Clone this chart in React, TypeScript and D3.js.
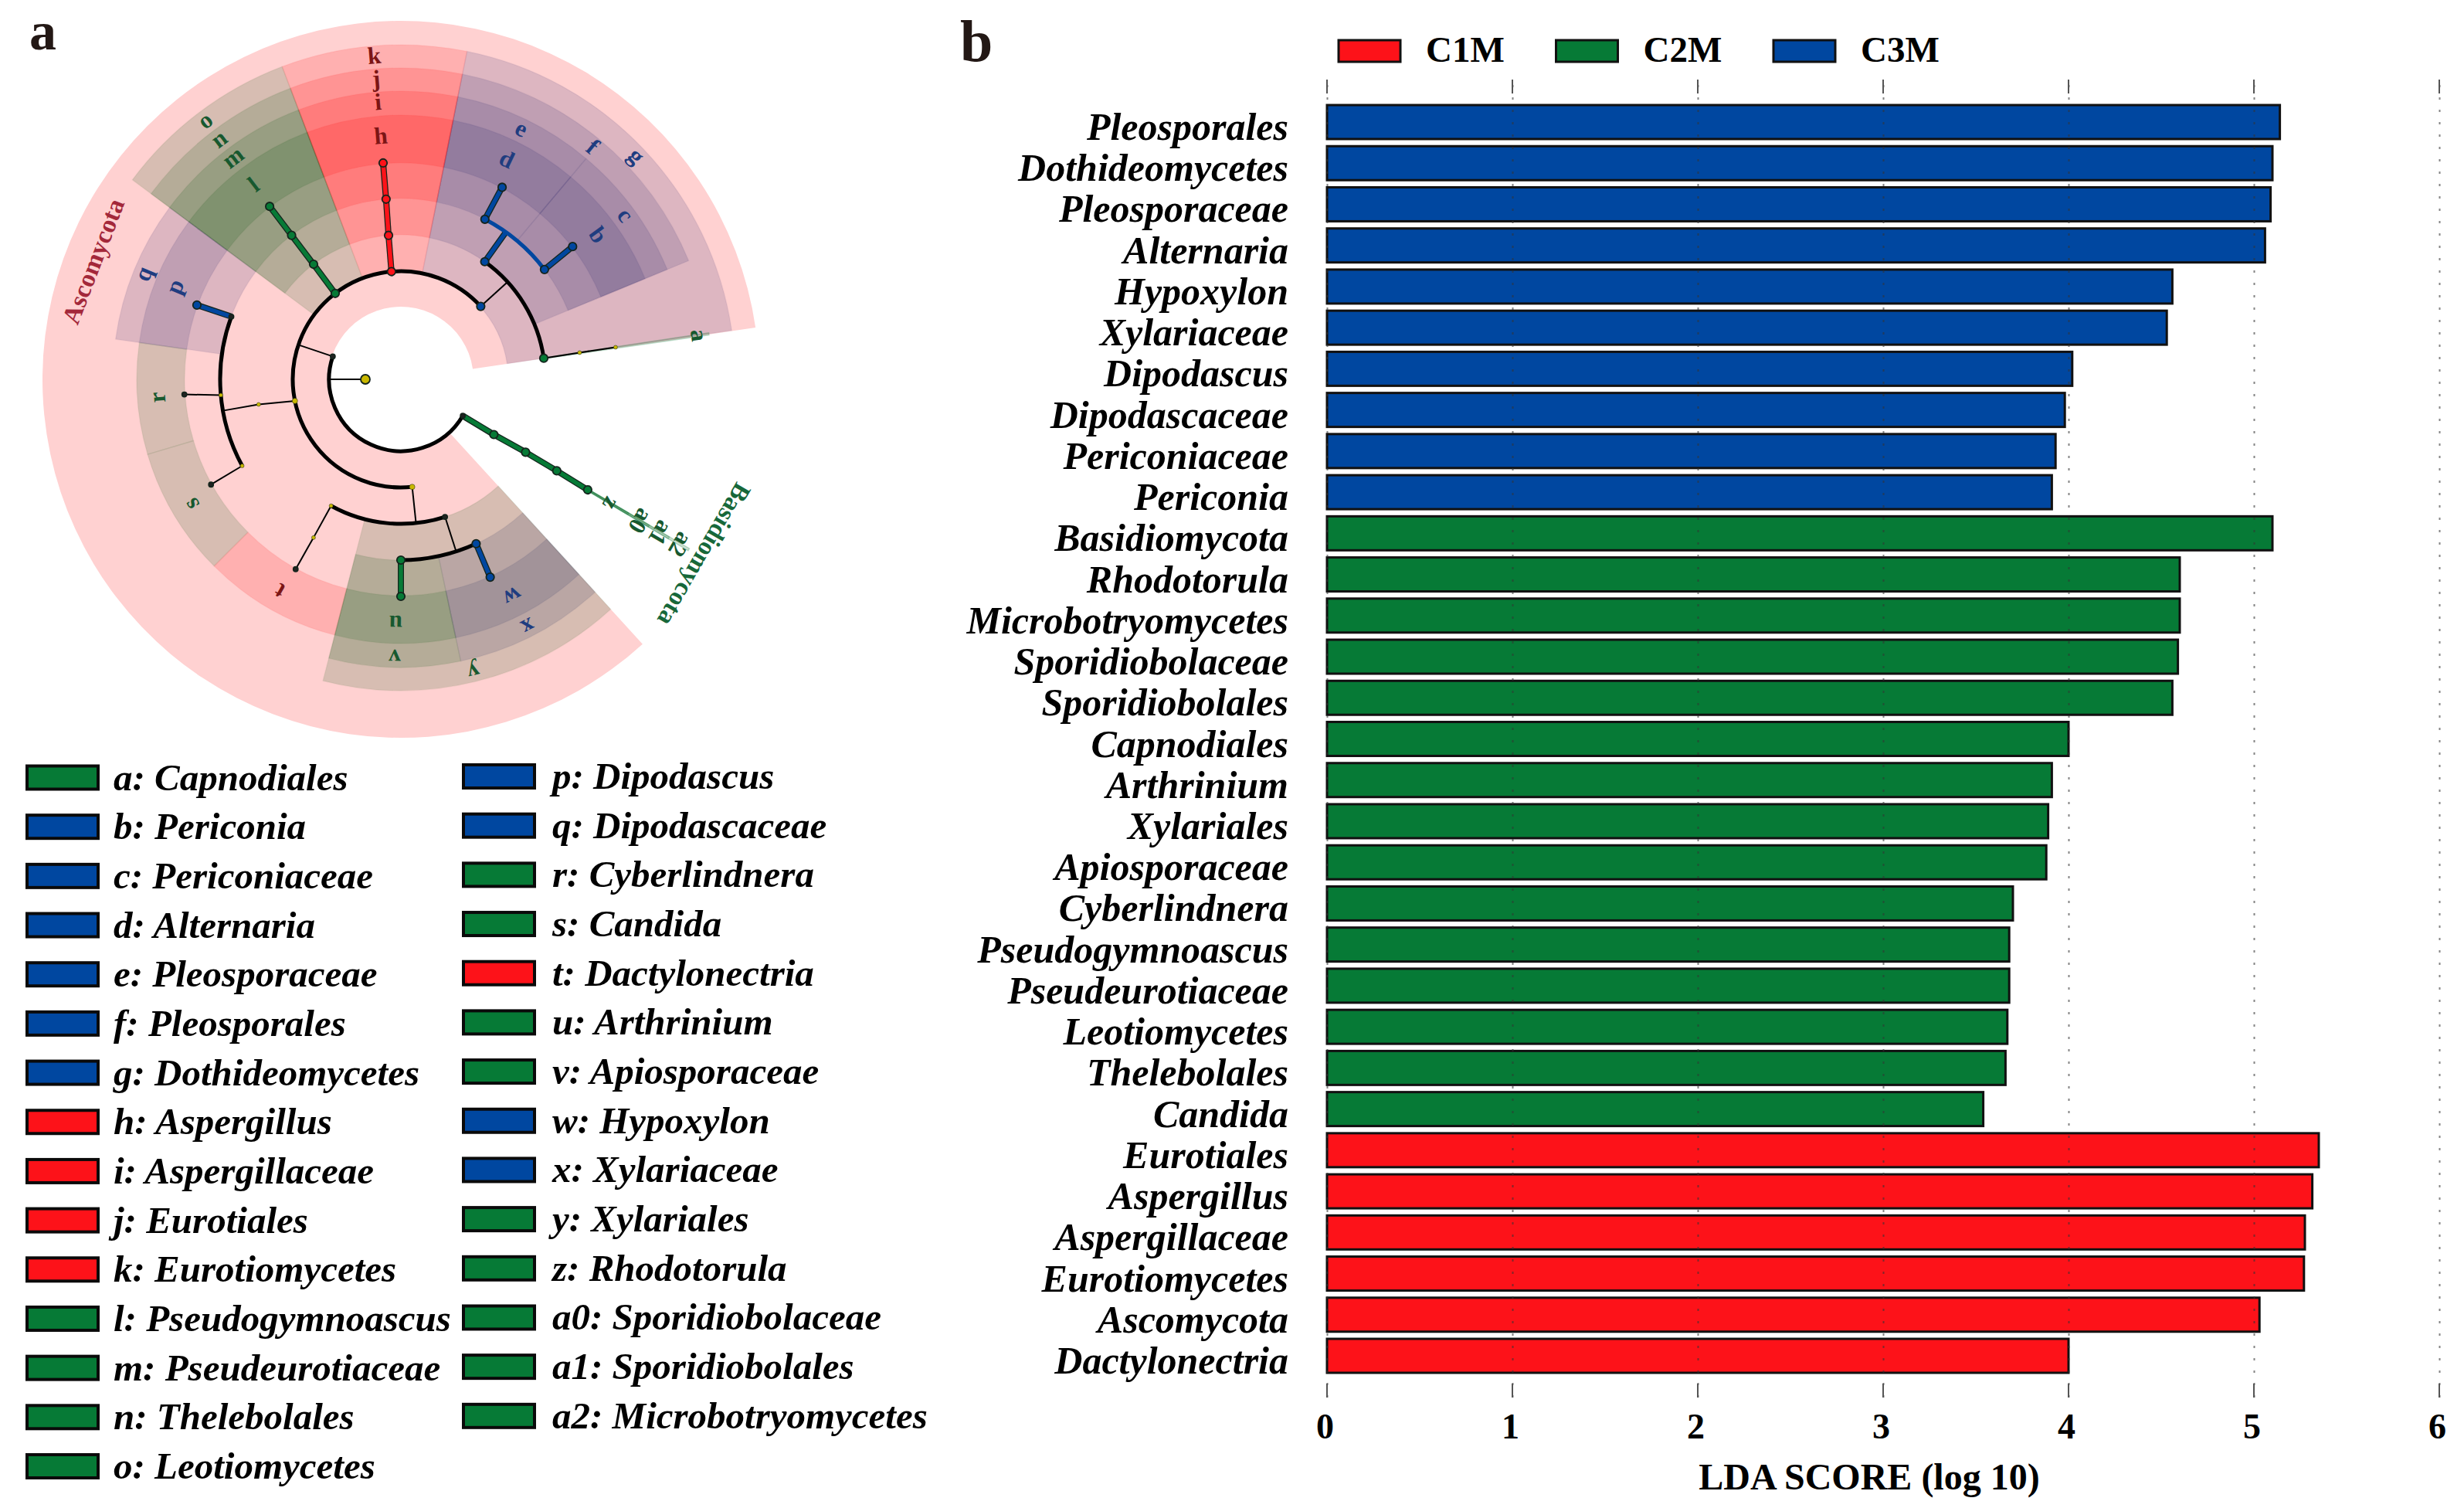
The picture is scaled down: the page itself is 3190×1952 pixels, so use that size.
import { useEffect, useRef } from "react";
import * as d3 from "d3";

// LDA scores, one list per group, top to bottom
const c3mNames = ["Pleosporales", "Dothideomycetes", "Pleosporaceae", "Alternaria", "Hypoxylon", "Xylariaceae", "Dipodascus", "Dipodascaceae", "Periconiaceae", "Periconia"];
const c3mScores = [5.14, 5.1, 5.09, 5.06, 4.56, 4.53, 4.02, 3.98, 3.93, 3.91];
const c2mNames = ["Basidiomycota", "Rhodotorula", "Microbotryomycetes", "Sporidiobolaceae", "Sporidiobolales", "Capnodiales", "Arthrinium", "Xylariales", "Apiosporaceae", "Cyberlindnera", "Pseudogymnoascus", "Pseudeurotiaceae", "Leotiomycetes", "Thelebolales", "Candida"];
const c2mScores = [5.1, 4.6, 4.6, 4.59, 4.56, 4.0, 3.91, 3.89, 3.88, 3.7, 3.68, 3.68, 3.67, 3.66, 3.54];
const c1mNames = ["Eurotiales", "Aspergillus", "Aspergillaceae", "Eurotiomycetes", "Ascomycota", "Dactylonectria"];
const c1mScores = [5.35, 5.315, 5.275, 5.27, 5.03, 4.0];

const groups = ["C1M", "C2M", "C3M"];
const groupColors = ["#fd1219", "#067a36", "#0047a0"];
const xTicks = [0, 1, 2, 3, 4, 5, 6];

// letter, taxon, level (1 phylum .. 5 genus), from / to angle in degrees, group
const clades: [string, string, number, number, number, string][] = [
  ["g", "Dothideomycetes", 2, 11.4, 81.6, "C3M"],
  ["a", "Capnodiales", 3, 81.4, 81.8, "C2M"],
  ["b", "Periconia", 5, 40, 67.6, "C3M"],
  ["c", "Periconiaceae", 4, 40, 67.6, "C3M"],
  ["d", "Alternaria", 5, 11.4, 40, "C3M"],
  ["e", "Pleosporaceae", 4, 11.4, 40, "C3M"],
  ["f", "Pleosporales", 3, 11.4, 67.6, "C3M"],
  ["h", "Aspergillus", 5, 339.2, 371.4, "C1M"],
  ["i", "Aspergillaceae", 4, 339.2, 371.4, "C1M"],
  ["j", "Eurotiales", 3, 339.2, 371.4, "C1M"],
  ["k", "Eurotiomycetes", 2, 339.2, 371.4, "C1M"],
  ["l", "Pseudogymnoascus", 5, 306.6, 339.2, "C2M"],
  ["m", "Pseudeurotiaceae", 4, 306.6, 339.2, "C2M"],
  ["n", "Thelebolales", 3, 306.6, 339.2, "C2M"],
  ["o", "Leotiomycetes", 2, 306.6, 339.2, "C2M"],
  ["p", "Dipodascus", 5, 278, 306.6, "C3M"],
  ["q", "Dipodascaceae", 4, 278, 306.6, "C3M"],
  ["r", "Cyberlindnera", 5, 253.5, 278, "C2M"],
  ["s", "Candida", 5, 225, 253.5, "C2M"],
  ["t", "Dactylonectria", 5, 194.5, 225, "C1M"],
  ["u", "Arthrinium", 5, 168, 194.5, "C2M"],
  ["v", "Apiosporaceae", 4, 168, 194.5, "C2M"],
  ["w", "Hypoxylon", 5, 137.6, 168, "C3M"],
  ["x", "Xylariaceae", 4, 137.6, 168, "C3M"],
  ["y", "Xylariales", 3, 137.6, 194.5, "C2M"],
  ["z", "Rhodotorula", 5, 120.4, 120.8, "C2M"],
  ["a0", "Sporidiobolaceae", 4, 120.4, 120.8, "C2M"],
  ["a1", "Sporidiobolales", 3, 120.4, 120.8, "C2M"],
  ["a2", "Microbotryomycetes", 2, 120.4, 120.8, "C2M"],
];

const legendOrder = ["a", "b", "c", "d", "e", "f", "g", "h", "i", "j", "k", "l", "m", "n", "o", "p", "q", "r", "s", "t", "u", "v", "w", "x", "y", "z", "a0", "a1", "a2"];

// id, parent, level, angle in degrees, group (empty: not significant)
const tree: [string, string, number, number, string][] = [
  ["root", "", 0, 270, ""],
  ["Ascomycota", "root", 1, 288.6, "C1M"],
  ["Basidiomycota", "root", 1, 120.5, "C2M"],
  ["Microbotryomycetes", "Basidiomycota", 2, 120.7, "C2M"],
  ["Sporidiobolales", "Microbotryomycetes", 3, 120.3, "C2M"],
  ["Sporidiobolaceae", "Sporidiobolales", 4, 120.4, "C2M"],
  ["Rhodotorula", "Sporidiobolaceae", 5, 120.6, "C2M"],
  ["Sordariomycetes", "Ascomycota", 2, 174, ""],
  ["Saccharomycetes", "Ascomycota", 2, 258.5, ""],
  ["Leotiomycetes", "Ascomycota", 2, 322.6, "C2M"],
  ["Eurotiomycetes", "Ascomycota", 2, 355, "C1M"],
  ["Dothideomycetes", "Ascomycota", 2, 407.6, "C3M"],
  ["Saccharomycetales", "Saccharomycetes", 3, 260, ""],
  ["Dipodascaceae", "Saccharomycetales", 4, 290.3, "C3M"],
  ["Phaffomycetaceae", "Saccharomycetales", 4, 265, ""],
  ["Debaryomycetaceae", "Saccharomycetales", 4, 241.4, ""],
  ["Dipodascus", "Dipodascaceae", 5, 290, "C3M"],
  ["Cyberlindnera", "Phaffomycetaceae", 5, 266, "C2M"],
  ["Candida", "Debaryomycetaceae", 5, 241, "C2M"],
  ["Hypocreales", "Sordariomycetes", 3, 208.9, ""],
  ["Xylariales", "Sordariomycetes", 3, 162.2, "C2M"],
  ["Nectriaceae", "Hypocreales", 4, 208.9, ""],
  ["Dactylonectria", "Nectriaceae", 5, 209, "C1M"],
  ["Apiosporaceae", "Xylariales", 4, 180, "C2M"],
  ["Xylariaceae", "Xylariales", 4, 155.4, "C3M"],
  ["Arthrinium", "Apiosporaceae", 5, 180, "C2M"],
  ["Hypoxylon", "Xylariaceae", 5, 155.7, "C3M"],
  ["Thelebolales", "Leotiomycetes", 3, 322.8, "C2M"],
  ["Pseudeurotiaceae", "Thelebolales", 4, 322.8, "C2M"],
  ["Pseudogymnoascus", "Pseudeurotiaceae", 5, 322.8, "C2M"],
  ["Eurotiales", "Eurotiomycetes", 3, 355.1, "C1M"],
  ["Aspergillaceae", "Eurotiales", 4, 355.3, "C1M"],
  ["Aspergillus", "Aspergillaceae", 5, 355.3, "C1M"],
  ["Pleosporales", "Dothideomycetes", 3, 395.5, "C3M"],
  ["Capnodiales", "Dothideomycetes", 3, 441.6, "C2M"],
  ["Pleosporaceae", "Pleosporales", 4, 387.7, "C3M"],
  ["Periconiaceae", "Pleosporales", 4, 412.6, "C3M"],
  ["Alternaria", "Pleosporaceae", 5, 387.8, "C3M"],
  ["Periconia", "Periconiaceae", 5, 412.3, "C3M"],
  ["Capnodiaceae", "Capnodiales", 4, 441.5, ""],
  ["Capnodium", "Capnodiaceae", 5, 441.5, ""],
];

const serif = "'Liberation Serif', 'Times New Roman', serif";

export default function App() {
  const svgRef = useRef<SVGSVGElement>(null);

  useEffect(() => {
    if (!svgRef.current) return;
    const svg = d3.select(svgRef.current);
    svg.selectAll("*").remove();
    svg.attr("font-family", serif);

    const colorOf = d3.scaleOrdinal<string, string>().domain(groups).range(groupColors);
    const cladeFill = d3.scaleOrdinal<string, string>().domain(groups).range(["#ff0000", "#00550f", "#28286e"]);
    const labelColor = d3.scaleOrdinal<string, string>().domain(groups).range(["#7c1515", "#17592f", "#1f3d80"]);
    const rad = (deg: number) => (deg * Math.PI) / 180;

    // ---- panel letters
    svg.append("text").attr("x", 38).attr("y", 64).attr("font-size", 70).attr("font-weight", 700).attr("fill", "#231815").text("a");
    svg.append("text").attr("x", 1243).attr("y", 79).attr("font-size", 76).attr("font-weight", 700).attr("fill", "#231815").text("b");

    // ---- cladogram
    const clado = svg.append("g").attr("transform", "translate(519,491)");
    const nodeRadius = d3.scaleLinear().domain([0, 5]).range([46, 281]);
    const bandInner = [0, 94, 139, 187, 234, 280];
    const bandOuter = [0, 464, 433, 403, 373, 342];
    const labelRadius = [0, 452, 420, 390, 360, 316];
    const arc = d3.arc();

    clado
      .append("path")
      .attr("d", arc({ innerRadius: bandInner[1], outerRadius: bandOuter[1], startAngle: rad(137.6), endAngle: rad(441.7) }) as string)
      .attr("fill", "#ffd1d1");

    clado
      .selectAll(".clade")
      .data(clades)
      .enter()
      .append("path")
      .attr("class", "clade")
      .attr("d", (d) => arc({ innerRadius: bandInner[d[2]], outerRadius: bandOuter[d[2]], startAngle: rad(d[3]), endAngle: rad(d[4]) }) as string)
      .attr("fill", (d) => cladeFill(d[5]))
      .attr("fill-opacity", 0.155)
      .attr("stroke", (d) => (d[4] - d[3] < 1 ? colorOf(d[5]) : cladeFill(d[5])))
      .attr("stroke-opacity", (d) => (d[4] - d[3] < 1 ? 0.25 : 0.06))
      .attr("stroke-width", 1.5);

    const byId = new Map(tree.map((n) => [n[0], n]));
    const polar = (r: number, deg: number) => [r * Math.sin(rad(deg)), -r * Math.cos(rad(deg))];
    const childrenOf = d3.group(tree.filter((n) => n[1]), (n) => n[1]);

    childrenOf.forEach((kids, parentId) => {
      const p = byId.get(parentId)!;
      const same = kids.every((k) => k[4] && k[4] === p[4]);
      const color = same ? colorOf(p[4]) : "#000000";
      const r = nodeRadius(p[2] + 1);
      const end = kids.length === 1 ? kids[0][3] : p[3];
      const [x1, y1] = polar(nodeRadius(p[2]), p[3]);
      const [x2, y2] = polar(r, end);
      const edge = () => clado.append("line").attr("x1", x1).attr("y1", y1).attr("x2", x2).attr("y2", y2);
      if (same) edge().attr("stroke", "#14241c").attr("stroke-width", 8);
      edge().attr("stroke", color).attr("stroke-width", same ? 5.5 : 2);
      if (kids.length > 1) {
        const [from, to] = d3.extent(kids, (k) => k[3]) as [number, number];
        clado
          .append("path")
          .attr("d", arc({ innerRadius: r, outerRadius: r, startAngle: rad(from), endAngle: rad(to) }) as string)
          .attr("fill", "none")
          .attr("stroke", color)
          .attr("stroke-width", 5);
      }
    });

    clado
      .selectAll(".node")
      .data(tree)
      .enter()
      .append("circle")
      .attr("class", "node")
      .attr("cx", (d) => polar(nodeRadius(d[2]), d[3])[0])
      .attr("cy", (d) => polar(nodeRadius(d[2]), d[3])[1])
      .attr("r", (d) => {
        if (d[2] === 0) return 6;
        if (!d[4]) return d[2] === 2 ? 3.5 : 2.5;
        return byId.get(d[1])![4] ? 5.2 : 3;
      })
      .attr("fill", (d) => {
        if (!d[4]) return "#c9b800";
        return byId.get(d[1])![4] ? colorOf(d[4]) : "#222222";
      })
      .attr("stroke", "#14241c")
      .attr("stroke-width", (d) => (d[2] === 0 || d[4] ? 1.8 : 0.5));

    clado
      .selectAll(".letter")
      .data(clades)
      .enter()
      .append("text")
      .attr("class", "letter")
      .attr("transform", (d) => {
        const mid = (d[3] + d[4]) / 2;
        const [x, y] = polar(labelRadius[d[2]], mid);
        return `translate(${x},${y}) rotate(${mid})`;
      })
      .attr("text-anchor", "middle")
      .attr("dy", "0.32em")
      .attr("font-size", 31)
      .attr("font-weight", 700)
      .attr("fill", (d) => labelColor(d[5]))
      .text((d) => d[0]);

    const phylumLabels: [string, number, number, string][] = [
      ["Ascomycota", 291, 426, "#a3283a"],
      ["Basidiomycota", 120, 453, "#17683a"],
    ];
    clado
      .selectAll(".phylum")
      .data(phylumLabels)
      .enter()
      .append("text")
      .attr("class", "phylum")
      .attr("transform", (d) => {
        const [x, y] = polar(d[2], d[1]);
        return `translate(${x},${y}) rotate(${d[1]})`;
      })
      .attr("text-anchor", "middle")
      .attr("dy", "0.32em")
      .attr("font-size", 33)
      .attr("font-weight", 700)
      .attr("fill", (d) => d[3])
      .text((d) => d[0]);

    // ---- legend under the cladogram
    const cladeBy = new Map(clades.map((c) => [c[0], c]));
    const leftCol = legendOrder.slice(0, 15);
    const rightCol = legendOrder.slice(15);
    const rowY = d3.scaleLinear().domain([0, 14]).range([1006.5, 1898]);

    [
      { items: leftCol, rx: 35, tx: 147, dy: 0 },
      { items: rightCol, rx: 600, tx: 715, dy: -1.5 },
    ].forEach(({ items, rx, tx, dy }) => {
      const col = svg.append("g").attr("transform", `translate(0,${dy})`);
      items.forEach((key, i) => {
        const c = cladeBy.get(key)!;
        col
          .append("rect")
          .attr("x", rx)
          .attr("y", rowY(i) - 15)
          .attr("width", 92)
          .attr("height", 30)
          .attr("fill", colorOf(c[5]))
          .attr("stroke", "#0a0a0a")
          .attr("stroke-width", 4);
        col
          .append("text")
          .attr("x", tx)
          .attr("y", rowY(i) + 16)
          .attr("font-size", 49)
          .attr("font-weight", 700)
          .attr("font-style", "italic")
          .attr("fill", "#000")
          .text(`${c[0]}: ${c[1]}`);
      });
    });

    // ---- bar chart
    const rows = [
      ...c3mNames.map((name, i) => ({ name, score: c3mScores[i], group: "C3M" })),
      ...c2mNames.map((name, i) => ({ name, score: c2mScores[i], group: "C2M" })),
      ...c1mNames.map((name, i) => ({ name, score: c1mScores[i], group: "C1M" })),
    ];
    const xScale = d3.scaleLinear().domain([0, 6]).range([1718, 3158]);
    const yScale = d3
      .scaleBand()
      .domain(rows.map((d) => d.name))
      .range([136, 1777])
      .paddingInner(0.174);

    const bars = svg.append("g");
    bars
      .selectAll("rect")
      .data(rows)
      .enter()
      .append("rect")
      .attr("x", xScale(0))
      .attr("y", (d) => yScale(d.name) || 0)
      .attr("width", (d) => xScale(d.score) - xScale(0))
      .attr("height", yScale.bandwidth())
      .attr("fill", (d) => colorOf(d.group))
      .attr("stroke", "#111111")
      .attr("stroke-width", 3);

    const axisY = 1809;
    const topY = 103;
    const xAxis = svg
      .append("g")
      .attr("transform", `translate(0,${axisY})`)
      .call(
        d3
          .axisBottom(xScale)
          .tickValues(xTicks)
          .tickFormat(d3.format("d") as any)
          .tickSize(-(axisY - topY))
          .tickPadding(20)
      );
    xAxis.select(".domain").remove();
    xAxis.selectAll("line").attr("stroke", "#333333").attr("stroke-width", 2).attr("stroke-opacity", 0.6).attr("stroke-dasharray", "3 13");
    xAxis.selectAll("text").attr("font-family", serif).attr("font-size", 46).attr("font-weight", 700).attr("fill", "#000").attr("x", -3);

    // short solid ends of each grid line
    [topY, axisY - 18].forEach((y) => {
      svg
        .append("g")
        .selectAll("line")
        .data(xTicks)
        .enter()
        .append("line")
        .attr("x1", (d) => xScale(d))
        .attr("x2", (d) => xScale(d))
        .attr("y1", y)
        .attr("y2", y + 18)
        .attr("stroke", "#555555")
        .attr("stroke-width", 2);
    });

    const yAxis = svg
      .append("g")
      .attr("transform", `translate(${xScale(0)},0)`)
      .call(d3.axisLeft(yScale).tickSize(0).tickPadding(50));
    yAxis.select(".domain").remove();
    yAxis.selectAll("text").attr("font-family", serif).attr("font-size", 50).attr("font-weight", 700).attr("font-style", "italic").attr("fill", "#000").attr("dy", "0.46em");

    svg
      .append("text")
      .attr("x", 2420)
      .attr("y", 1928)
      .attr("text-anchor", "middle")
      .attr("font-size", 48)
      .attr("font-weight", 700)
      .text("LDA SCORE (log 10)");

    // ---- group legend
    const legendX = d3.scaleLinear().domain([0, 2]).range([1733, 2296]);
    groups.forEach((g, i) => {
      svg
        .append("rect")
        .attr("x", legendX(i))
        .attr("y", 52)
        .attr("width", 80)
        .attr("height", 28)
        .attr("fill", colorOf(g))
        .attr("stroke", "#111111")
        .attr("stroke-width", 3);
      svg
        .append("text")
        .attr("x", legendX(i) + 113)
        .attr("y", 80)
        .attr("font-size", 47)
        .attr("font-weight", 700)
        .text(g);
    });
  }, []);

  return <svg ref={svgRef} width={3190} height={1952} style={{ position: "absolute", left: 0, top: 0, background: "#fff" }} />;
}
